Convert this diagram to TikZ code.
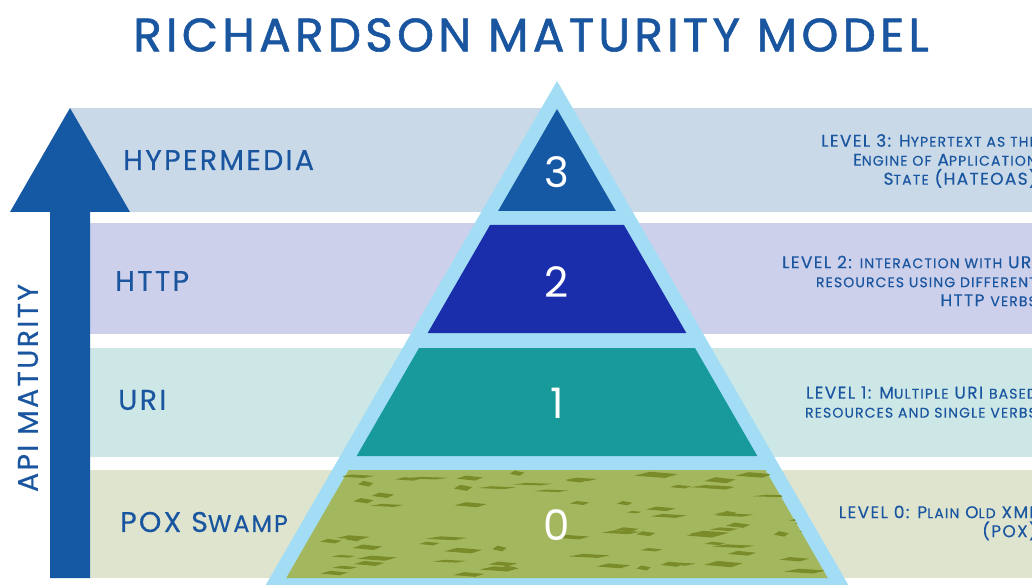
\documentclass[tikz,border=0pt]{standalone}
\usepackage{fontspec}
\usepackage{xcolor}
\setmainfont{Poppins}
\newfontfamily\titlefont[LetterSpace=9,FakeBold=1.2]{Poppins}
\newfontfamily\spacedfont[LetterSpace=8,FakeBold=0.4]{Poppins}

\definecolor{txtblue}{HTML}{1A56A0}
\definecolor{band3}{HTML}{C9D9E8}
\definecolor{band2}{HTML}{CDD0EB}
\definecolor{band1}{HTML}{CDE7E6}
\definecolor{band0}{HTML}{DFE4CF}
\definecolor{rim}{HTML}{A3DDF5}
\definecolor{lvl3}{HTML}{1558A3}
\definecolor{lvl2}{HTML}{1A2DAA}
\definecolor{lvl1}{HTML}{189A9A}
\definecolor{lvl0}{HTML}{A3B85E}
\definecolor{mud}{HTML}{7A8B2A}

% smaller capitals for the level texts
\newcommand\sm[1]{{\fontsize{14}{19}\selectfont #1}}
\newcommand\smbig[1]{{\fontsize{24}{24}\selectfont #1}}

% one slice of the pyramid, top and bottom in px
\newcommand\lvlshape[3]{%
  \fill[#3] ({557-(#1-109)*0.57735},#1) -- ({557+(#1-109)*0.57735},#1)
    -- ({557+(#2-109)*0.57735},#2) -- ({557-(#2-109)*0.57735},#2) -- cycle;}

\tikzset{
  sidelabel/.style={text=txtblue, anchor=west, inner sep=0pt,
    font=\spacedfont\fontsize{28.5}{28.5}\selectfont},
  lvlnum/.style={text=white, inner sep=0pt, font=\fontsize{42}{42}\selectfont},
  desc/.style={text=txtblue, anchor=east, align=right, inner sep=0pt,
    font=\spacedfont\fontsize{17}{19}\selectfont},
}

\begin{document}
\begin{tikzpicture}[x=1pt, y=-1pt]
  \useasboundingbox (0,0) rectangle (1032,585);
  \clip (0,0) rectangle (1032,585);

  % the four bands
  \fill[band3] (70,108) rectangle (1032,212);
  \fill[band2] (70,223) rectangle (1032,334);
  \fill[band1] (70,348) rectangle (1032,457);
  \fill[band0] (70,470) rectangle (1032,578);

  % maturity arrow
  \fill[lvl3] (50,578) -- (50,212) -- (10,212) -- (70,108) -- (130,212)
    -- (90,212) -- (90,578) -- cycle;
  \node[sidelabel, anchor=center, rotate=90] (api) at (28,388) {API MATURITY};

  % pyramid rim and slices
  \fill[rim] (557,81) -- (857,600) -- (257,600) -- cycle;
  \lvlshape{109}{211}{lvl3}
  \lvlshape{225}{333}{lvl2}
  \lvlshape{348}{456}{lvl1}
  \lvlshape{470}{578}{lvl0}

  % swamp texture
  \begin{scope}
    \clip (347,470) -- (767,470) -- (828,578) -- (286,578) -- cycle;
    \pgfmathsetseed{11}
    \foreach \i in {1,...,80}{
      \pgfmathsetmacro{\bx}{557+rand*275}
      \pgfmathsetmacro{\by}{524+rand*52}
      \pgfmathsetmacro{\bw}{7+rnd*15}
      \pgfmathsetmacro{\bh}{1.5+rnd*2.5}
      \fill[mud] (\bx-\bw,\by) -- (\bx-0.3*\bw,\by-\bh) -- (\bx+\bw,\by-0.4*\bh)
        -- (\bx+0.4*\bw,\by+0.6*\bh) -- cycle;
    }
  \end{scope}

  % level numbers
  \node[lvlnum] (n3) at (557,172) {3};
  \node[lvlnum] (n2) at (557,282) {2};
  \node[lvlnum] (n1) at (557,403) {1};
  \node[lvlnum] (n0) at (557,525) {0};

  % left labels
  \node[sidelabel] (hyper) at (123,160) {HYPERMEDIA};
  \node[sidelabel] (http) at (115,281) {HTTP};
  \node[sidelabel] (uri) at (118,400) {URI};
  \node[sidelabel] (pox) at (120,522) {POX S\smbig{WAMP}};

  % right descriptions
  \node[desc] (d3) at (1037,161) {LEVEL 3: H\sm{YPERTEXT AS THE}\\
    E\sm{NGINE OF} A\sm{PPLICATION}\\ S\sm{TATE} (HATEOAS)};
  \node[desc] (d2) at (1037,281) {LEVEL 2: \sm{INTERACTION WITH} URI\\
    \sm{RESOURCES USING DIFFERENT}\\ HTTP \sm{VERBS}};
  \node[desc] (d1) at (1037,402) {LEVEL 1: M\sm{ULTIPLE} URI \sm{BASED}\\
    \sm{RESOURCES AND SINGLE VERBS}};
  \node[desc] (d0) at (1037,523) {LEVEL 0: P\sm{LAIN} O\sm{LD} XML\\ (POX)};

  % title
  \node[text=txtblue, inner sep=0pt, font=\titlefont\fontsize{47}{47}\selectfont]
    (title) at (531,35) {RICHARDSON MATURITY MODEL};
\end{tikzpicture}
\end{document}
